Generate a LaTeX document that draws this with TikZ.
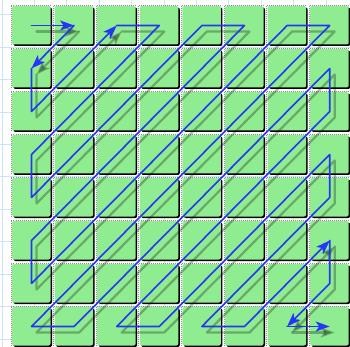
\documentclass[tikz,border=0pt]{standalone}
\usetikzlibrary{arrows.meta}
\definecolor{cellgreen}{RGB}{144,236,144}
\definecolor{paperblue}{RGB}{205,228,248}
\definecolor{pathblue}{RGB}{35,55,245}
\tikzset{
  cell/.style={fill=cellgreen, rounded corners=2pt},
  cellshadow/.style={fill=black, rounded corners=2pt},
  celledge/.style={draw=black!45, line width=0.7pt, dash pattern=on 0.8pt off 1.2pt},
  paperline/.style={draw=paperblue, line width=1pt},
  zig/.style={draw=pathblue, line width=1.6pt, line join=round, line cap=round,
    -{Stealth[length=14pt,width=10pt,inset=3.5pt]}},
  zigshadow/.style={draw=black, opacity=0.28, line width=2.2pt,
    line join=round, line cap=round, -{Stealth[length=14pt,width=10pt,inset=3.5pt]}},
}
\newcommand\drawzig[2]{%
  \draw[#1] (#200) -- (#210);
  \draw[#1] (#210) -- (#201);
  \draw[#1] (#201) -- (#202) -- (#220);
  \draw[#1] (#220) -- (#230) -- (#203) -- (#204) -- (#240) -- (#250) -- (#205) -- (#206)
     -- (#260) -- (#270) -- (#207) -- (#217) -- (#271) -- (#272) -- (#227) -- (#237)
     -- (#273) -- (#274) -- (#247) -- (#257) -- (#275);
  \draw[#1] (#275) -- (#276) -- (#267);
  \draw[#1] (#267) -- (#277);
}
\begin{document}
\begin{tikzpicture}[x=1pt,y=-1pt]
\useasboundingbox (0,0) rectangle (350,347);
\fill[white] (0,0) rectangle (350,347);
\foreach \k in {0,...,10} {
  \draw[paperline] ({2+32.4*\k},0) -- ({2+32.4*\k},347);
  \draw[paperline] (0,{15+32.4*\k}) -- (350,{15+32.4*\k});
}
\foreach \i in {0,...,7} {
  \foreach \j in {0,...,7} {
    \pgfmathsetmacro\xo{12+42.6*\i}
    \pgfmathsetmacro\yo{6+43*\j}
    \fill[cellshadow] ({\xo+1.5},{\yo+1.5}) rectangle ({\xo+40},{\yo+40});
    \fill[cell] (\xo,\yo) rectangle ({\xo+38.5},{\yo+38.5});
    \draw[celledge] ({\xo-1},{\yo+38.5}) -- ({\xo-1},{\yo-1}) -- ({\xo+38.5},{\yo-1});
    \coordinate (c\i\j) at ({\xo+19.5},{\yo+19.5});
    \coordinate (s\i\j) at ({\xo+24.5},{\yo+25.5});
  }
}
\drawzig{zigshadow}{s}
\drawzig{zig}{c}
\end{tikzpicture}
\end{document}
